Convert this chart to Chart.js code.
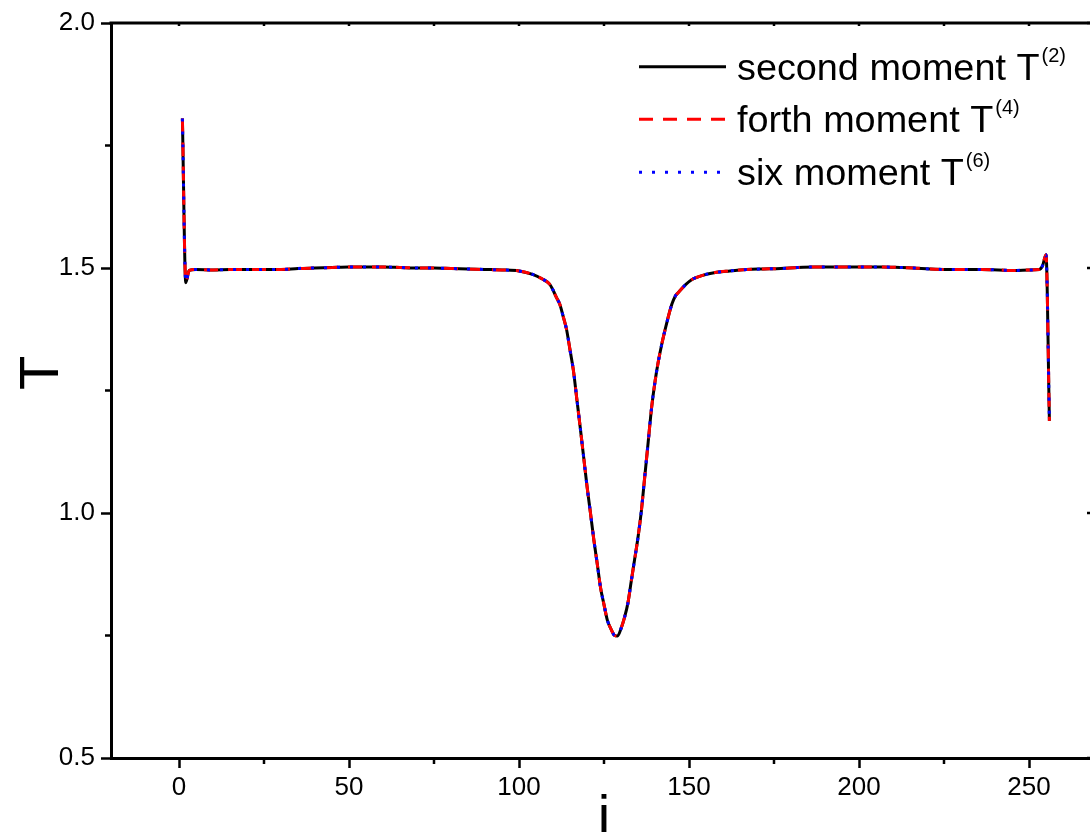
<!DOCTYPE html>
<html><head><meta charset="utf-8">
<script src="https://cdn.jsdelivr.net/npm/chart.js@4.4.0/dist/chart.umd.min.js"></script>
<style>
html,body{margin:0;padding:0;overflow:hidden;background:#fff}
#wrap{position:absolute;left:0;top:0;width:1100px;height:832px}
</style></head>
<body><div id="wrap"><canvas id="c"></canvas></div>
<script>
// ---- data ----
const iValues = [1,2,3,5,10,15,20,25,30,35,40,45,50,55,60,65,70,75,80,85,90,95,100,104,107,109,110,111,112,113,114,115,116,117,118,119,120,121,122,123,124,125,126,127,128,129,130,131,132,133,134,135,136,137,138,139,140,141,142,143,144,145,146,147,149,151,154,157,162,167,172,177,182,187,192,197,202,207,212,216,221,226,231,236,241,246,250,253,254,255,256];
const T2 = [1.805,1.470,1.495,1.497,1.496,1.497,1.497,1.497,1.497,1.499,1.500,1.501,1.502,1.502,1.502,1.501,1.500,1.500,1.499,1.498,1.497,1.496,1.494,1.487,1.477,1.467,1.455,1.440,1.426,1.401,1.374,1.333,1.291,1.233,1.175,1.115,1.055,1.001,0.946,0.897,0.847,0.813,0.781,0.764,0.751,0.749,0.764,0.786,0.815,0.860,0.905,0.950,1.005,1.075,1.145,1.215,1.268,1.310,1.345,1.375,1.403,1.427,1.443,1.451,1.466,1.477,1.485,1.490,1.494,1.497,1.498,1.499,1.501,1.502,1.502,1.502,1.502,1.502,1.501,1.500,1.498,1.497,1.497,1.497,1.496,1.495,1.496,1.497,1.505,1.527,1.188];
const T4 = [1.805,1.470,1.495,1.497,1.496,1.497,1.497,1.497,1.497,1.499,1.500,1.501,1.502,1.502,1.502,1.501,1.500,1.500,1.499,1.498,1.497,1.496,1.494,1.487,1.477,1.467,1.455,1.440,1.426,1.401,1.374,1.333,1.291,1.233,1.175,1.115,1.055,1.001,0.946,0.897,0.847,0.813,0.781,0.764,0.751,0.749,0.764,0.786,0.815,0.860,0.905,0.950,1.005,1.075,1.145,1.215,1.268,1.310,1.345,1.375,1.403,1.427,1.443,1.451,1.466,1.477,1.485,1.490,1.494,1.497,1.498,1.499,1.501,1.502,1.502,1.502,1.502,1.502,1.501,1.500,1.498,1.497,1.497,1.497,1.496,1.495,1.496,1.497,1.505,1.527,1.188];
const T6 = [1.805,1.470,1.495,1.497,1.496,1.497,1.497,1.497,1.497,1.499,1.500,1.501,1.502,1.502,1.502,1.501,1.500,1.500,1.499,1.498,1.497,1.496,1.494,1.487,1.477,1.467,1.455,1.440,1.426,1.401,1.374,1.333,1.291,1.233,1.175,1.115,1.055,1.001,0.946,0.897,0.847,0.813,0.781,0.764,0.751,0.749,0.764,0.786,0.815,0.860,0.905,0.950,1.005,1.075,1.145,1.215,1.268,1.310,1.345,1.375,1.403,1.427,1.443,1.451,1.466,1.477,1.485,1.490,1.494,1.497,1.498,1.499,1.501,1.502,1.502,1.502,1.502,1.502,1.501,1.500,1.498,1.497,1.497,1.497,1.496,1.495,1.496,1.497,1.505,1.527,1.188];
const seriesLabels = ['second moment T','forth moment T','six moment T'];
const seriesSup = ['(2)','(4)','(6)'];
const xMajorTicks = [0,50,100,150,200,250];
const xMinorTicks = [25,75,125,175,225];
const yMajorTicks = [0.5,1.0,1.5,2.0];
const yMinorTicks = [0.75,1.25,1.75];
const xTitle = 'i';
const yTitle = 'T';

const FONT = '"Liberation Sans", Arial, Helvetica, sans-serif';
Chart.defaults.font.family = FONT;
Chart.defaults.color = '#000';

const styles = [
  {color:'#000000', dash:[], order:3},
  {color:'#ff0000', dash:[14,10], order:2},
  {color:'#0000ff', dash:[3,10], order:1}
];
const seriesData = [T2,T4,T6];

const datasets = seriesData.map((arr,k)=>({
  label: seriesLabels[k]+seriesSup[k],
  data: iValues.map((x,j)=>({x:x,y:arr[j]})),
  borderColor: styles[k].color,
  borderDash: styles[k].dash,
  borderWidth: 3,
  pointRadius: 0,
  fill: false,
  cubicInterpolationMode: 'monotone',
  order: styles[k].order
}));

const framePlugin = {
  id:'frame',
  afterDraw(chart){
    const ctx = chart.ctx, a = chart.chartArea;
    const xs = chart.scales.x, ys = chart.scales.y;
    ctx.save();
    ctx.strokeStyle = '#000';
    ctx.lineWidth = 3;
    ctx.beginPath();
    ctx.moveTo(a.left-1.5, a.top); ctx.lineTo(a.right, a.top);
    ctx.moveTo(a.right, a.top); ctx.lineTo(a.right, a.bottom);
    ctx.stroke();
    ctx.lineWidth = 2.5;
    ctx.beginPath();
    xMinorTicks.forEach(v=>{const p=xs.getPixelForValue(v); ctx.moveTo(p,a.bottom); ctx.lineTo(p,a.bottom+6);});
    yMinorTicks.forEach(v=>{const p=ys.getPixelForValue(v); ctx.moveTo(a.left,p); ctx.lineTo(a.left-6,p);});
    xMajorTicks.concat(xMinorTicks).forEach(v=>{const p=xs.getPixelForValue(v); ctx.moveTo(p,a.top); ctx.lineTo(p,a.top+3);});
    yMajorTicks.forEach(v=>{const p=ys.getPixelForValue(v); ctx.moveTo(a.right,p); ctx.lineTo(a.right-10,p);});
    yMinorTicks.forEach(v=>{const p=ys.getPixelForValue(v); ctx.moveTo(a.right,p); ctx.lineTo(a.right-6,p);});
    ctx.stroke();

    // axis titles
    ctx.fillStyle = '#000';
    ctx.font = '56px ' + FONT;
    ctx.textAlign = 'center';
    ctx.textBaseline = 'alphabetic';
    ctx.fillText(xTitle, (a.left+a.right)/2, 834);
    ctx.save();
    ctx.translate(58, 373);
    ctx.rotate(-Math.PI/2);
    ctx.fillText(yTitle, 0, 0);
    ctx.restore();

    // legend
    const lx0 = 639, lx1 = 726, tx = 737;
    const baselines = [79.5, 132, 185];
    for(let k=0;k<3;k++){
      const by = baselines[k];
      const ly = by - 12.8;
      ctx.save();
      ctx.strokeStyle = styles[k].color;
      ctx.lineWidth = 3;
      ctx.setLineDash(styles[k].dash);
      ctx.beginPath(); ctx.moveTo(lx0, ly); ctx.lineTo(lx1, ly); ctx.stroke();
      ctx.restore();
      ctx.textAlign = 'left';
      ctx.font = '37.8px ' + FONT;
      ctx.fillText(seriesLabels[k], tx, by);
      const w = ctx.measureText(seriesLabels[k]).width;
      ctx.font = '20px ' + FONT;
      ctx.fillText(seriesSup[k], tx + w + 2, by - 18);
    }
    ctx.restore();
  }
};

new Chart(document.getElementById('c'), {
  type:'line',
  data:{datasets:datasets},
  options:{
    responsive:true,
    maintainAspectRatio:false,
    animation:false,
    devicePixelRatio:1,
    layout:{padding:{left:0,top:23,right:3,bottom:0}},
    plugins:{legend:{display:false},tooltip:{enabled:false}},
    scales:{
      x:{
        type:'linear', min:-20, max:270,
        afterFit(s){ s.height = 74; },
        afterBuildTicks(s){ s.ticks = xMajorTicks.map(v=>({value:v})); },
        grid:{drawOnChartArea:false, drawTicks:true, tickLength:10, tickWidth:2.5, tickColor:'#000'},
        border:{display:true, color:'#000', width:3},
        ticks:{font:{size:26}, color:'#000', padding:4, maxRotation:0, autoSkip:false, callback:v=>String(v)}
      },
      y:{
        type:'linear', min:0.5, max:2.0,
        afterFit(s){ s.width = 111; },
        afterBuildTicks(s){ s.ticks = yMajorTicks.map(v=>({value:v})); },
        grid:{drawOnChartArea:false, drawTicks:true, tickLength:10, tickWidth:2.5, tickColor:'#000'},
        border:{display:true, color:'#000', width:3},
        ticks:{font:{size:26}, color:'#000', padding:6, autoSkip:false, callback:v=>Number(v).toFixed(1)}
      }
    }
  },
  plugins:[framePlugin]
});
</script>
</body></html>
